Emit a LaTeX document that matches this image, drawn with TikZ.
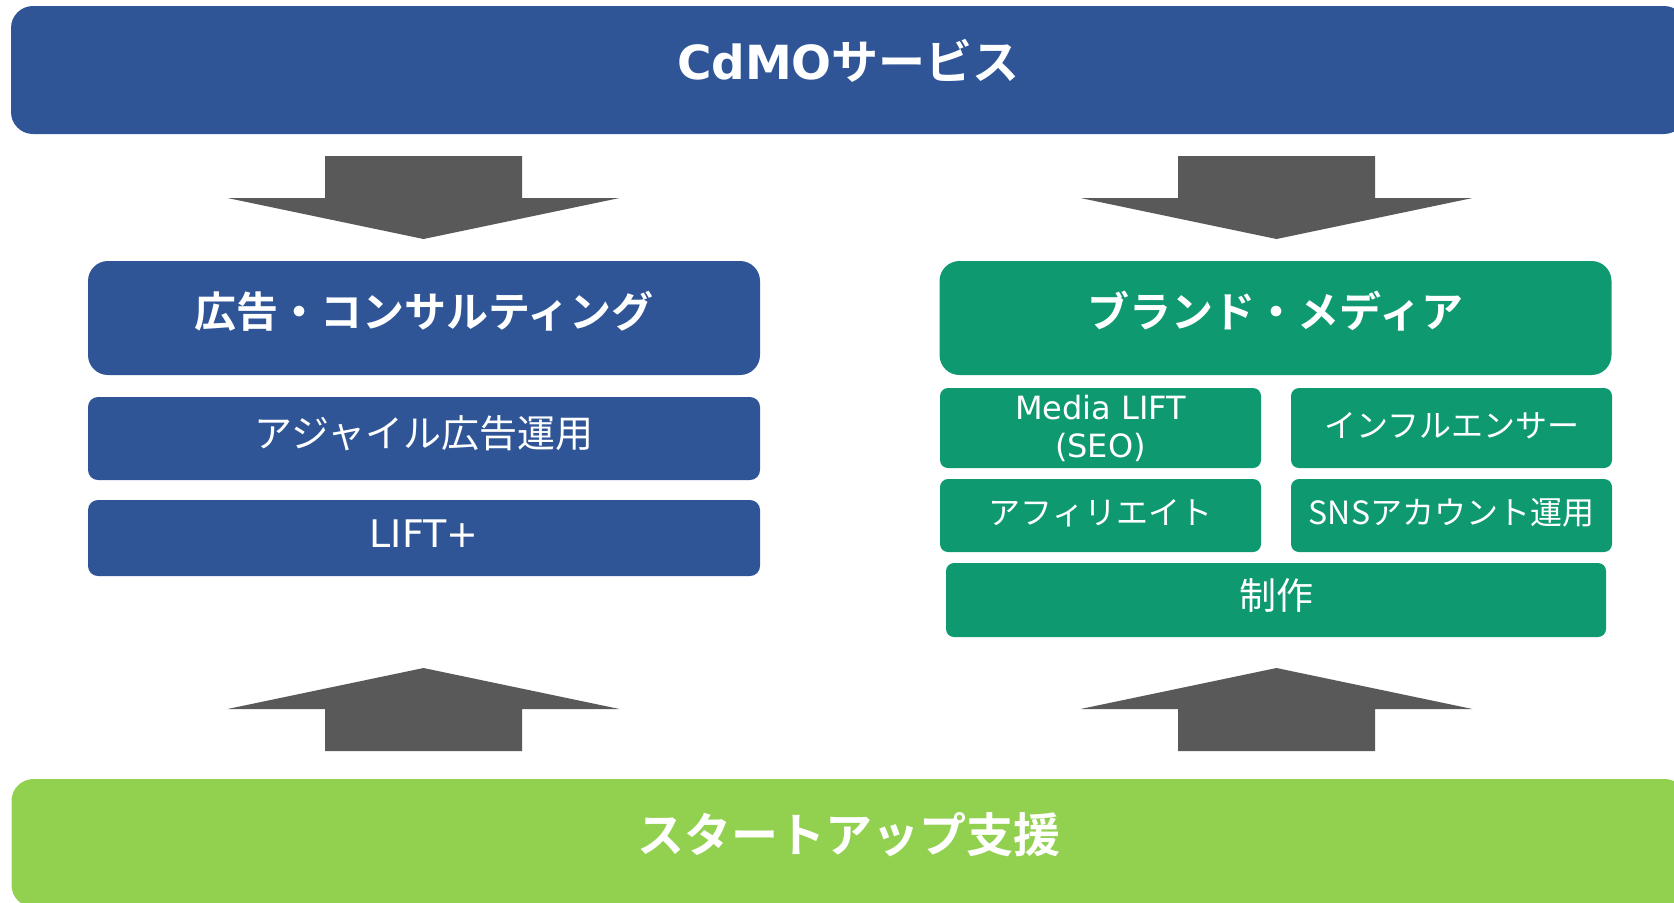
\documentclass[tikz,border=0pt]{standalone}
\usepackage{fontspec}
\setmainfont{Noto Sans CJK JP}[BoldFont={Noto Sans CJK JP Bold}]
\newfontfamily\lat{DejaVu Sans}
\definecolor{cdmoblue}{RGB}{47,85,151}
\definecolor{mediagreen}{RGB}{14,153,112}
\definecolor{startgreen}{RGB}{146,208,80}
\definecolor{arrowgray}{RGB}{89,89,89}
\def\sz#1#2{\fontsize{#1}{#2}\selectfont}
\def\bigdown#1{\path[fill = arrowgray] ({#1-98.5},156)--({#1+98.5},156)--({#1+98.5},198)--({#1+196},198)--(#1,239)--({#1-196},198)--({#1-98.5},198)--cycle;}
\def\bigup#1{\path[fill = arrowgray] ({#1-98.5},751)--({#1+98.5},751)--({#1+98.5},709)--({#1+196},709)--(#1,668)--({#1-196},709)--({#1-98.5},709)--cycle;}

\begin{document}
\begin{tikzpicture}[x=0.5pt, y=-0.5pt,
  box/.style={rectangle, inner sep=0pt, text=white, text height=0.97em, text depth=0.05em},
  banner/.style={box, rounded corners=11pt, minimum width=837.5pt, minimum height=64pt, font=\sz{23.5}{28}\bfseries},
  headbox/.style={box, rounded corners=10pt, minimum width=336pt, minimum height=57pt, font=\sz{21}{25}\bfseries},
  itembox/.style={box, fill=cdmoblue, rounded corners=5pt, minimum width=336pt, font=\sz{19}{23}},
  subbox/.style={box, fill=mediagreen, rounded corners=4pt, minimum width=160.5pt, font=\sz{16}{19}}]
\useasboundingbox (0,0) rectangle (1674,902);

% top and bottom bands
\node[banner, fill=cdmoblue] (cdmo) at (848.5,70) {{\lat CdMO}サービス};
\node[banner, fill=startgreen] (startup) at (849,843) {スタートアップ支援};

% left column
\node[headbox, fill=cdmoblue] (adhead) at (424,318) {広告・コンサルティング};
\node[itembox, minimum height=41.5pt] (agile) at (424,438.5) {アジャイル広告運用};
\node[itembox, minimum height=38pt] (liftplus) at (424,538) {\lat LIFT+};

% right column
\node[headbox, fill=mediagreen] (brandhead) at (1275.5,318) {ブランド・メディア};
\node[subbox, minimum height=40pt, align=center, text height={}, text depth={}] (medialift) at (1100.5,428) {{\lat Media LIFT}\\{\lat (SEO)}};
\node[subbox, minimum height=40pt] (influencer) at (1451.5,428) {インフルエンサー};
\node[subbox, minimum height=36.5pt] (affiliate) at (1100.5,515.5) {アフィリエイト};
\node[subbox, minimum height=36.5pt] (snsops) at (1451.5,515.5) {SNSアカウント運用};
\node[subbox, minimum width=330pt, minimum height=37pt, font=\sz{18.5}{22}] (production) at (1276,600) {制作};

% big arrows
\bigdown{423.5}
\bigdown{1276.5}
\bigup{423.5}
\bigup{1276.5}
\end{tikzpicture}
\end{document}
